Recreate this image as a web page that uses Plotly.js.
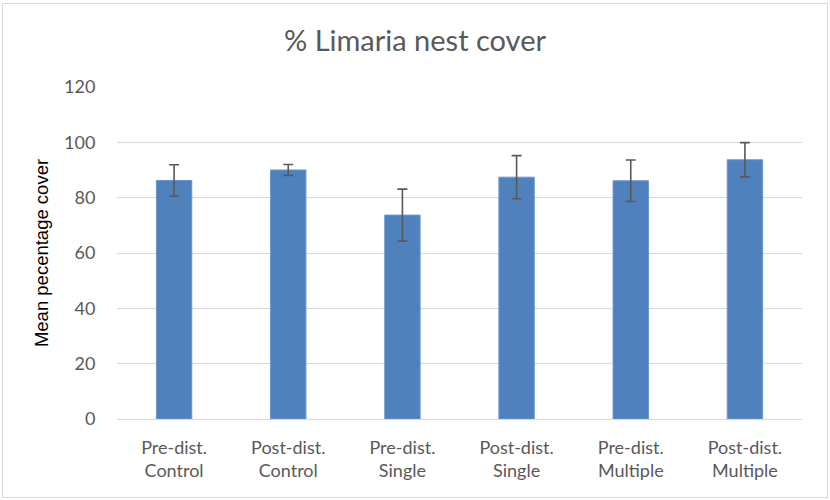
<!DOCTYPE html>
<html>
<head>
<meta charset="utf-8">
<script src="https://cdn.plot.ly/plotly-3.0.1.min.js"></script>
<style>
  html, body { margin: 0; padding: 0; background: #ffffff; }
  #wrap { position: relative; width: 830px; height: 500px; }
  #chart { width: 830px; height: 500px; }
  #frame { position: absolute; left: 2px; top: 3px; width: 824px; height: 493px;
           border: 1px solid #d9d9d9; pointer-events: none; }
</style>
</head>
<body>
<div id="wrap">
  <div id="chart"></div>
  <div id="frame"></div>
</div>
<script>
// Treatment groups (two-line tick labels)
const categories = [
  "Pre-dist.<br>Control",
  "Post-dist.<br>Control",
  "Pre-dist.<br>Single",
  "Post-dist.<br>Single",
  "Pre-dist.<br>Multiple",
  "Post-dist.<br>Multiple"
];
// Mean percentage nest cover per group
const meanCover = [86.2, 90.0, 73.7, 87.4, 86.1, 93.7];
// Error bar half-widths
const errCover = [5.7, 2.0, 9.4, 7.8, 7.5, 6.2];
const yTicks = [0, 20, 40, 60, 80, 100, 120];

const fontFamily = "Lato, 'Open Sans', sans-serif";

const trace = {
  type: "bar",
  x: categories,
  y: meanCover,
  marker: { color: "#4f81bd", line: { color: "#6a96cc", width: 1 } },
  error_y: {
    type: "data",
    array: errCover,
    visible: true,
    color: "#595959",
    thickness: 1.6,
    width: 5
  },
  hoverinfo: "x+y"
};

const layout = {
  width: 830,
  height: 500,
  margin: { l: 117, r: 28, t: 87, b: 81 },
  paper_bgcolor: "#ffffff",
  plot_bgcolor: "#ffffff",
  bargap: 0.69,
  showlegend: false,
  font: { family: fontFamily, color: "#595959", size: 18 },
  title: {
    text: "% Limaria nest cover",
    font: { family: fontFamily, size: 29, color: "#595959" },
    x: 0.5,
    xanchor: "center",
    y: 1 - 41 / 500,
    yanchor: "middle"
  },
  xaxis: {
    showline: true,
    linecolor: "#d9d9d9",
    linewidth: 1,
    showgrid: false,
    ticks: "outside",
    ticklen: 12,
    tickcolor: "rgba(0,0,0,0)",
    tickfont: { family: fontFamily, size: 18, color: "#595959" }
  },
  yaxis: {
    range: [0, 120],
    tickvals: yTicks,
    showgrid: true,
    gridcolor: "#d9d9d9",
    gridwidth: 1,
    zeroline: false,
    showline: false,
    ticks: "outside",
    ticklen: 17,
    tickcolor: "rgba(0,0,0,0)",
    tickfont: { family: fontFamily, size: 18, color: "#595959" },
    title: {
      text: "Mean pecentage cover",
      font: { family: "'Liberation Sans', Arial, sans-serif", size: 18.5, color: "#000000" },
      standoff: 10
    }
  }
};

Plotly.newPlot("chart", [trace], layout, { displayModeBar: false, staticPlot: true });
</script>
</body>
</html>
